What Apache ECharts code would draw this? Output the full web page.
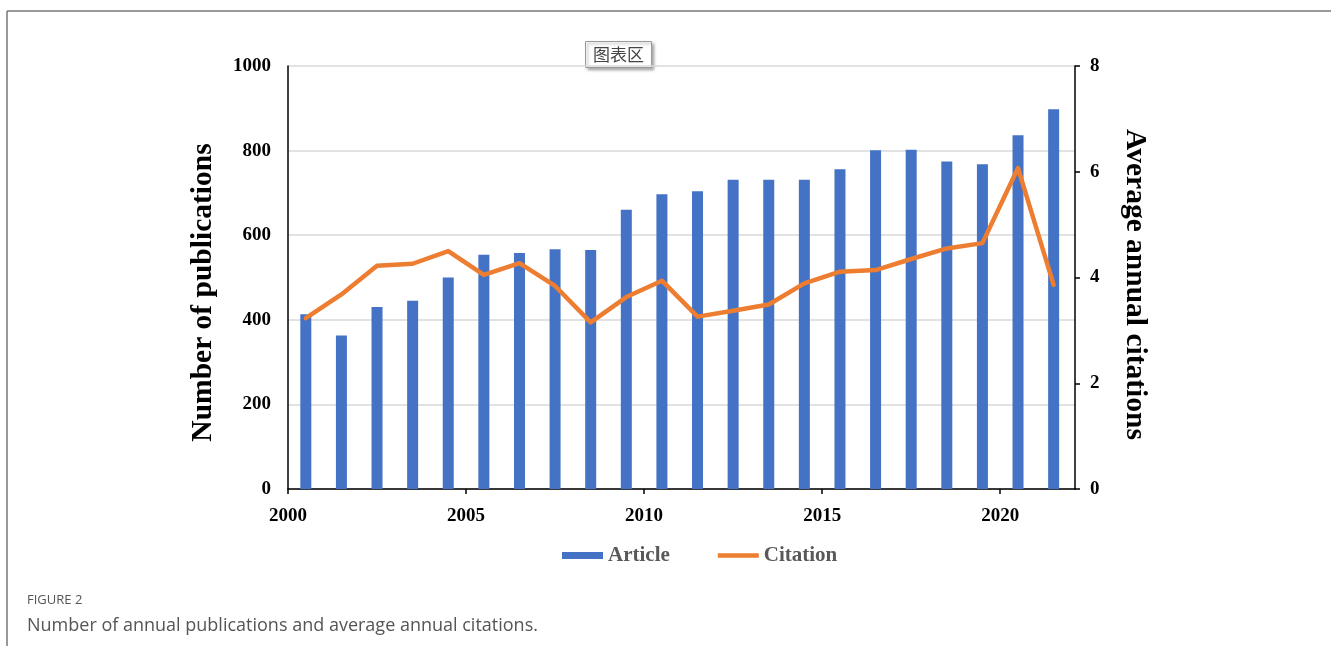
<!DOCTYPE html>
<html>
<head>
<meta charset="utf-8">
<style>
  html, body { margin: 0; padding: 0; background: #fff; }
  #chart { width: 1331px; height: 646px; }
</style>
<script src="https://cdn.jsdelivr.net/npm/echarts@6/dist/echarts.min.js"></script>
</head>
<body>
<div id="chart"></div>
<script>
// ---- data ----
const years = [2000, 2001, 2002, 2003, 2004, 2005, 2006, 2007, 2008, 2009, 2010,
               2011, 2012, 2013, 2014, 2015, 2016, 2017, 2018, 2019, 2020, 2021];
const articles = [413, 363, 430, 445, 500, 554, 558, 567, 565, 660, 697,
                  704, 731, 731, 731, 756, 801, 802, 774, 768, 836, 898];
const citations = [3.23, 3.68, 4.22, 4.26, 4.50, 4.05, 4.27, 3.84, 3.15, 3.63, 3.94,
                   3.26, 3.37, 3.49, 3.89, 4.11, 4.14, 4.35, 4.55, 4.65, 6.07, 3.86];
const xTickLabels = [2000, 2005, 2010, 2015, 2020];
const leftTicks = [0, 200, 400, 600, 800, 1000];
const rightTicks = [0, 2, 4, 6, 8];
const seriesNames = ['Article', 'Citation'];
const yTitles = ['Number of publications', 'Average annual citations'];
const captionLabel = 'FIGURE 2';
const captionText = 'Number of annual publications and average annual citations.';
const chartAreaTag = '图表区';

// each year's mark sits in the middle of its one-year slot
const articleData = years.map((y, i) => [y + 0.5, articles[i]]);
const citationData = years.map((y, i) => [y + 0.5, citations[i]]);

const serif = '"Liberation Serif", "Times New Roman", serif';
const chart = echarts.init(document.getElementById('chart'), null, { renderer: 'canvas' });

const option = {
  animation: false,
  backgroundColor: '#ffffff',
  grid: { left: 288, right: 256, top: 66, bottom: 157, containLabel: false },
  legend: {
    data: [
      { name: seriesNames[0], icon: 'rect', itemStyle: { color: '#4472C4' } },
      { name: seriesNames[1], icon: 'path://M0,0 L44,0 L44,5 L0,5 Z', itemStyle: { color: '#ED7D31' } }
    ],
    left: 557,
    top: 540,
    itemWidth: 41,
    itemHeight: 7,
    itemGap: 48,
    textStyle: { fontFamily: serif, fontWeight: 'bold', fontSize: 21, color: '#595959' }
  },
  xAxis: {
    type: 'value',
    min: 2000,
    max: 2022.1,
    interval: 5,
    axisLine: { show: true, onZero: false, lineStyle: { color: '#000', width: 1.5 } },
    axisTick: { show: true, length: 5, customValues: xTickLabels, lineStyle: { color: '#000', width: 1.5 } },
    axisLabel: {
      customValues: xTickLabels,
      margin: 18,
      fontFamily: serif, fontWeight: 'bold', fontSize: 19, color: '#000',
      formatter: v => String(v)
    },
    splitLine: { show: false }
  },
  yAxis: [
    {
      type: 'value',
      min: leftTicks[0], max: leftTicks[leftTicks.length - 1], interval: 200,
      name: yTitles[0],
      nameLocation: 'middle',
      nameGap: 70,
      nameTextStyle: { fontFamily: serif, fontWeight: 'bold', fontSize: 29.5, color: '#000', padding: [0, 30, 0, 0] },
      axisLine: { show: true, lineStyle: { color: '#000', width: 1.5 } },
      axisTick: { show: false },
      axisLabel: { margin: 17, fontFamily: serif, fontWeight: 'bold', fontSize: 19, color: '#000', formatter: v => String(v) },
      splitLine: { show: true, lineStyle: { color: '#D9D9D9', width: 1.5 } }
    },
    {
      type: 'value',
      position: 'right',
      min: rightTicks[0], max: rightTicks[rightTicks.length - 1], interval: 2,
      name: yTitles[1],
      nameLocation: 'middle',
      nameRotate: -90,
      nameGap: 45,
      nameTextStyle: { fontFamily: serif, fontWeight: 'bold', fontSize: 29.5, color: '#000', padding: [0, 0, 0, 14] },
      axisLine: { show: true, lineStyle: { color: '#000', width: 1.5 } },
      axisTick: { show: true, inside: false, length: 5, lineStyle: { color: '#000', width: 1.5 } },
      axisLabel: { margin: 15, fontFamily: serif, fontWeight: 'bold', fontSize: 19, color: '#000' },
      splitLine: { show: false }
    }
  ],
  series: [
    {
      name: seriesNames[0],
      type: 'bar',
      data: articleData,
      barWidth: 11,
      itemStyle: { color: '#4472C4' },
      z: 2
    },
    {
      name: seriesNames[1],
      type: 'line',
      yAxisIndex: 1,
      data: citationData,
      symbol: 'none',
      lineStyle: { color: '#ED7D31', width: 4.5, join: 'round', cap: 'round' },
      itemStyle: { color: '#ED7D31' },
      z: 3
    }
  ],
  graphic: [
    { type: 'line', shape: { x1: 7, y1: 11, x2: 1331, y2: 11 }, style: { stroke: '#777', lineWidth: 1.5 }, silent: true },
    { type: 'line', shape: { x1: 7, y1: 11, x2: 7, y2: 646 }, style: { stroke: '#777', lineWidth: 1.5 }, silent: true },
    {
      type: 'group', left: 585, top: 41, silent: true, z: 100,
      children: [
        { type: 'rect', shape: { x: 0, y: 0, width: 66, height: 26 },
          style: { fill: '#fff', stroke: '#9a9a9a', lineWidth: 1, shadowBlur: 3, shadowOffsetX: 2, shadowOffsetY: 2, shadowColor: 'rgba(0,0,0,0.35)' } },
        { type: 'text', x: 33, y: 13,
          style: { text: chartAreaTag, fontFamily: '"Noto Sans CJK SC", sans-serif', fontSize: 17, fill: '#444', align: 'center', verticalAlign: 'middle' } }
      ]
    },
    { type: 'text', left: 27, top: 594, silent: true,
      style: { text: captionLabel, fontFamily: '"Open Sans", sans-serif', fontSize: 13, fill: '#555' } },
    { type: 'text', left: 27, top: 617, silent: true,
      style: { text: captionText, fontFamily: '"Open Sans", sans-serif', fontSize: 18, fill: '#555' } }
  ]
};
chart.setOption(option);
</script>
</body>
</html>
